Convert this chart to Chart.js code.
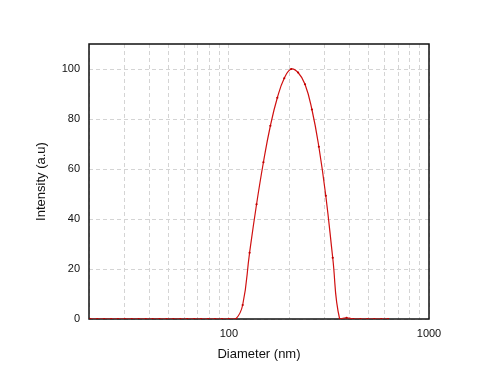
<!DOCTYPE html>
<html>
<head>
<meta charset="utf-8">
<script src="https://cdn.jsdelivr.net/npm/chart.js@4.4.1/dist/chart.umd.min.js"></script>
<style>
  html, body { margin: 0; padding: 0; background: #fff; }
  #wrap { width: 500px; height: 383px; position: relative; }
</style>
</head>
<body>
<div id="wrap"><canvas id="chartDLS"></canvas></div>
<script>
// Distribucion de tamaño (intensidad)
const diametros = [20.3, 22.0, 23.8, 25.8, 27.9, 30.2, 32.7, 35.4, 38.4, 41.6,
  45.0, 48.8, 52.8, 57.2, 61.9, 67.1, 72.6, 78.7, 85.2, 92.3,
  99.9, 108.2, 117.2, 126.9, 137.5, 148.8, 161.2, 174.6, 189.1, 204.8,
  221.7, 240.1, 260.0, 281.6, 305.0, 330.3, 357.7, 387.4, 419.5, 454.3,
  492.1, 532.9, 577.1, 625.0];
const intensidad = [0, 0, 0, 0, 0, 0, 0, 0, 0, 0,
  0, 0, 0, 0, 0, 0, 0, 0, 0, 0,
  0, 0, 5.6, 26.5, 45.9, 62.7, 77.3, 88.5, 96.3, 100,
  98.6, 93.9, 83.8, 68.9, 49.3, 24.5, 0, 0.5, 0, 0,
  0, 0, 0, 0];

// Ticks de los ejes
const xGridTicks = [20, 30, 40, 50, 60, 70, 80, 90, 100, 200, 300, 400, 500, 600, 700, 800, 900, 1000];
const xEtiquetas = [100, 1000];
const yTicks = [0, 20, 40, 60, 80, 100];

const fuente = "'Liberation Sans', Arial, sans-serif";

// Marco negro alrededor del area del grafico
const marcoPlugin = {
  id: 'marco',
  beforeDatasetsDraw(chart) {
    const { ctx, chartArea: a } = chart;
    ctx.save();
    ctx.strokeStyle = '#111';
    ctx.lineWidth = 1.5;
    ctx.strokeRect(a.left, a.top, a.right - a.left, a.bottom - a.top);
    ctx.restore();
  }
};

const ctx = document.getElementById('chartDLS');
new Chart(ctx, {
  type: 'line',
  data: {
    datasets: [{
      label: 'Intensity',
      data: diametros.map((d, i) => ({ x: d, y: intensidad[i] })),
      borderColor: '#d01010',
      backgroundColor: '#c00000',
      borderWidth: 1.2,
      pointRadius: 1.1,
      pointBorderWidth: 0,
      tension: 0.45,
      fill: false
    }]
  },
  options: {
    responsive: true,
    maintainAspectRatio: false,
    animation: false,
    layout: { padding: { left: 30, right: 71, top: 44, bottom: 17 } },
    plugins: {
      legend: { display: false },
      tooltip: { enabled: false }
    },
    scales: {
      x: {
        type: 'logarithmic',
        min: 20,
        max: 1000,
        afterBuildTicks: scale => { scale.ticks = xGridTicks.map(v => ({ value: v })); },
        afterFit: scale => { scale.height = 47; },
        border: { display: false, dash: [4, 3] },
        grid: { color: '#d4d4d4', lineWidth: 1, drawTicks: false },
        ticks: {
          autoSkip: false,
          maxRotation: 0,
          padding: 8,
          color: '#111',
          font: { family: fuente, size: 11 },
          callback: value => xEtiquetas.includes(value) ? String(value) : ''
        },
        title: {
          display: true,
          text: 'Diameter (nm)',
          color: '#111',
          font: { family: fuente, size: 13 }
        }
      },
      y: {
        min: 0,
        max: 110,
        afterBuildTicks: scale => { scale.ticks = yTicks.map(v => ({ value: v })); },
        afterFit: scale => { scale.width = 59; },
        border: { display: false, dash: [4, 3] },
        grid: { color: '#d4d4d4', lineWidth: 1, drawTicks: false },
        ticks: {
          padding: 9,
          color: '#111',
          font: { family: fuente, size: 11 }
        },
        title: {
          display: true,
          text: 'Intensity (a.u)',
          color: '#111',
          font: { family: fuente, size: 13 }
        }
      }
    }
  },
  plugins: [marcoPlugin]
});
</script>
</body>
</html>
